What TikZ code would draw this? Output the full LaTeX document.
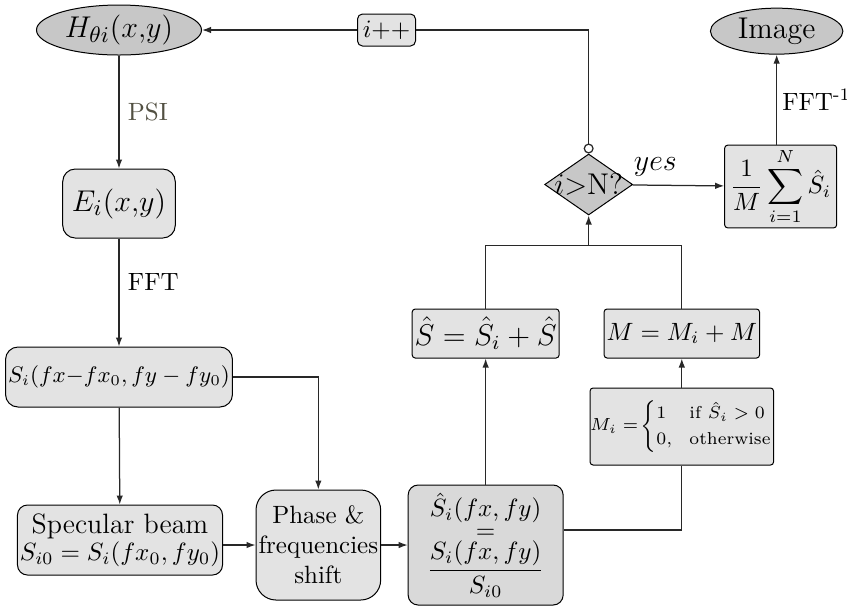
\documentclass[tikz,border=0pt]{standalone}
\usepackage{amsmath}
\usetikzlibrary{shapes.geometric, arrows.meta, positioning, calc}

\definecolor{psigray}{RGB}{82,80,66}
\definecolor{linegray}{RGB}{40,40,40}

\begin{document}
\begin{tikzpicture}[align=center,
    conn/.style={draw=linegray, line width=0.5pt},
    arr/.style={conn, -{Latex[length=3.6pt, width=2.6pt]}},
    term/.style={draw, ellipse, fill=black!22, inner sep=0pt},
    softbox/.style={draw, rectangle, rounded corners=5pt, fill=black!11, inner sep=1pt},
    flatbox/.style={draw, rectangle, rounded corners=1.2pt, fill=black!11, inner sep=1pt},
    decision/.style={draw, diamond, fill=black!22, inner sep=0pt, minimum width=35.2pt, minimum height=24.4pt}]

    \useasboundingbox (-47.6pt,12pt) rectangle (291.2pt,-230pt);

    \node [term, minimum width=66pt, minimum height=20pt] (hxy)
      {\fontsize{13.2}{15}\selectfont $H_{\theta i}(x{,}y)$};

    \node [softbox, minimum width=45pt, minimum height=27.6pt, below=45.2pt of hxy] (exy)
      {\fontsize{12.8}{15}\selectfont $E_{i}(x{,}y)$};

    \node [softbox, minimum width=87pt, minimum height=24pt, below=43.2pt of exy] (sshift)
      {\fontsize{8.9}{11}\selectfont $S_i(fx{-}fx_0, fy-fy_0)$};

    \node [softbox, rounded corners=4pt, minimum width=80pt, minimum height=28pt, below=38.8pt of sshift, xshift=0.4pt] (specular)
      {\fontsize{11.2}{13}\selectfont Specular beam\\[-1pt] $S_{i0}=S_i(fx_0,fy_0)$};

    \node [softbox, rounded corners=8pt, minimum width=49pt, minimum height=44pt, right=13pt of specular, yshift=-2pt] (phase)
      {Phase \&\\ frequencies\\ shift};

    \node [softbox, rounded corners=4pt, fill=black!15, minimum width=62pt, minimum height=48pt, right=10.6pt of phase] (ratio)
      {$\hat{S}_i(fx,fy)$\\[-3.2pt] $=$\\ $\dfrac{S_i(fx,fy)}{S_{i0}}$};

    \node [flatbox, minimum width=58.4pt, minimum height=19.6pt, above=50.4pt of ratio] (shat)
      {\large $\hat{S}=\hat{S}_i+\hat{S}$};

    \node [flatbox, minimum width=60pt, minimum height=19.6pt, right=17.6pt of shat] (mbox)
      {$M=M_i+M$};

    \node [flatbox, minimum width=72.4pt, minimum height=30.8pt, inner sep=0pt, below=11.6pt of mbox] (mi)
      {\fontsize{6.9}{8.4}\selectfont $M_i=\!\begin{cases}1 & \text{if } \hat{S}_i>0\\ 0, & \text{otherwise}\end{cases}$};

    \node [decision, above=37.2pt of shat, xshift=41.2pt] (check)
      {\makebox[0pt]{\large $i$>N?}};

    \node [flatbox, minimum width=44.8pt, minimum height=32.4pt, right=36.4pt of check, yshift=-0.8pt] (avg)
      {$\displaystyle\frac{1}{M}\sum_{i=1}^{N}\hat{S}_i$};

    \node [term, minimum width=53pt, minimum height=18.4pt, above=36pt of avg, xshift=-1.6pt] (img)
      {\large Image};

    \node [flatbox, rounded corners=2pt, minimum width=23.2pt, minimum height=12.8pt, inner sep=0.5pt, right=62pt of hxy] (incr)
      {$i{+}{+}$};

    \coordinate[below=12pt of check] (merge);

    % main chain
    \draw[arr] (hxy) -- node[right, text=psigray, pos=0.5] {PSI} (exy);
    \draw[arr] (exy) -- node[right, pos=0.4] {FFT} (sshift);
    \draw[arr] (sshift) -- (specular);
    \draw[arr] (sshift.east) -| (phase.north);
    \draw[arr] (specular.east |- phase.west) -- (phase.west);
    \draw[arr] (phase) -- (ratio);
    \draw[arr] (ratio) -- (shat);
    \draw[conn] ([yshift=6pt]ratio.east) -| (mi.south);
    \draw[arr] (mi) -- (mbox);

    % loop
    \draw[conn] (shat.north) |- (merge) -| (mbox.north);
    \draw[arr] (merge) -- (check);
    \draw[conn, {Circle[open, length=4pt]}-] (check.north) |- (incr.east);
    \draw[arr] (incr) -- (hxy);
    \draw[arr] (check) -- node[above, pos=0.25] {\large $yes$} (avg);
    \draw[arr] (avg.north -| img.south) -- node[right, inner sep=2pt] {FFT\textsuperscript{-1}} (img.south);
  \end{tikzpicture}
\end{document}
